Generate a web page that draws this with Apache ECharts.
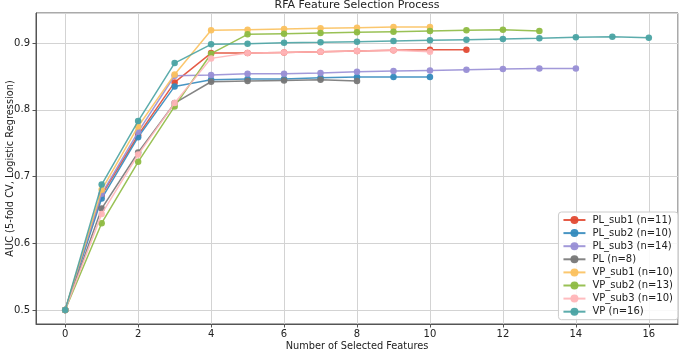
<!DOCTYPE html>
<html>
<head>
<meta charset="utf-8">
<script src="https://cdn.jsdelivr.net/npm/echarts@6/dist/echarts.min.js"></script>
<style>html,body{margin:0;padding:0;background:#fff;}#c{width:680px;height:350px;}</style>
</head>
<body>
<div id="c"></div>
<script>
const seriesNames = ['PL_sub1 (n=11)','PL_sub2 (n=10)','PL_sub3 (n=14)','PL (n=8)','VP_sub1 (n=10)','VP_sub2 (n=13)','VP_sub3 (n=10)','VP (n=16)'];
const PL_sub1 = [0.5, 0.672, 0.762, 0.841, 0.885, 0.885, 0.886, 0.887, 0.888, 0.889, 0.890, 0.890];
const PL_sub2 = [0.5, 0.667, 0.759, 0.835, 0.845, 0.846, 0.846, 0.848, 0.849, 0.849, 0.849];
const PL_sub3 = [0.5, 0.674, 0.767, 0.851, 0.852, 0.854, 0.854, 0.855, 0.857, 0.858, 0.859, 0.860, 0.861, 0.862, 0.862];
const PL_all  = [0.5, 0.652, 0.736, 0.810, 0.842, 0.843, 0.844, 0.845, 0.843];
const VP_sub1 = [0.5, 0.680, 0.775, 0.853, 0.919, 0.920, 0.921, 0.922, 0.923, 0.924, 0.924];
const VP_sub2 = [0.5, 0.630, 0.722, 0.805, 0.884, 0.913, 0.914, 0.915, 0.916, 0.917, 0.918, 0.919, 0.920, 0.918];
const VP_sub3 = [0.5, 0.644, 0.733, 0.810, 0.877, 0.885, 0.886, 0.887, 0.888, 0.889, 0.887];
const VP_all  = [0.5, 0.688, 0.783, 0.870, 0.898, 0.899, 0.9005, 0.901, 0.902, 0.903, 0.904, 0.905, 0.906, 0.907, 0.9085, 0.9095, 0.908];
const allValues = [PL_sub1, PL_sub2, PL_sub3, PL_all, VP_sub1, VP_sub2, VP_sub3, VP_all];
const colors = ['#E24A33','#348ABD','#988ED5','#777777','#FBC15E','#8EBA42','#FFB5B8','#4AA3A3'];

const font = 'DejaVu Sans';
const chart = echarts.init(document.getElementById('c'), null, {renderer:'canvas'});
const series = allValues.map((vals, k) => ({
  name: seriesNames[k],
  type: 'line',
  data: vals.map((v, i) => [i, v]),
  symbol: 'circle',
  symbolSize: 6.5,
  showSymbol: true,
  lineStyle: {width: 1.5, color: colors[k], opacity: 0.9},
  itemStyle: {color: colors[k], opacity: 0.95},
  emphasis: {disabled: true},
  animation: false,
  z: 2 + k
}));

chart.setOption({
  animation: false,
  backgroundColor: '#fff',
  textStyle: {fontFamily: font},
  title: {
    text: 'RFA Feature Selection Process',
    left: 357, textAlign: 'center', top: 0, padding: 0,
    textStyle: {fontFamily: font, fontSize: 11, fontWeight: 'normal', color: '#222'}
  },
  grid: {left: 36, right: 2, top: 13, bottom: 26, containLabel: false, outerBoundsMode: 'none',
         show: true, borderColor: '#555', borderWidth: 1, backgroundColor: 'transparent'},
  legend: {
    orient: 'vertical', right: 2, top: 212,
    itemWidth: 22, itemHeight: 10, itemGap: 3.1,
    padding: [3, 5, 3, 4],
    backgroundColor: 'rgba(255,255,255,0.85)', borderColor: '#cccccc', borderWidth: 1, borderRadius: 3,
    textStyle: {fontFamily: font, fontSize: 10, color: '#222', padding: [0,0,0,2]},
    data: seriesNames
  },
  xAxis: {
    type: 'value', min: -0.8, max: 16.8, minInterval: 2, maxInterval: 2,
    name: 'Number of Selected Features', nameLocation: 'middle', nameGap: 17, nameMoveOverlap: false,
    nameTextStyle: {fontFamily: font, fontSize: 9.8, color: '#222'},
    axisLine: {show: true, onZero: false, lineStyle: {color: '#555'}},
    axisTick: {show: true, length: 3.5, lineStyle: {color: '#555'}},
    axisLabel: {fontFamily: font, fontSize: 10, color: '#222', margin: 5,
      showMinLabel: false, showMaxLabel: false,
      formatter: v => (Math.abs(v - Math.round(v)) < 1e-6 && Math.round(v) % 2 === 0) ? String(Math.round(v)) : ''},
    splitLine: {show: true, lineStyle: {color: '#d3d3d3', width: 1}}
  },
  yAxis: {
    type: 'value', min: 0.479, max: 0.945, minInterval: 0.1, maxInterval: 0.1,
    name: 'AUC (5-fold CV, Logistic Regression)', nameLocation: 'middle', nameGap: 21, nameRotate: 90, nameMoveOverlap: false,
    nameTextStyle: {fontFamily: font, fontSize: 9.8, color: '#222'},
    axisLine: {show: true, onZero: false, lineStyle: {color: '#555'}},
    axisTick: {show: true, length: 3.5, lineStyle: {color: '#555'}},
    axisLabel: {fontFamily: font, fontSize: 10, color: '#222', margin: 6,
      showMinLabel: false, showMaxLabel: false,
      formatter: v => { const r = Math.round(v * 10) / 10; return Math.abs(v - r) < 1e-6 ? r.toFixed(1) : ''; }},
    splitLine: {show: true, lineStyle: {color: '#d3d3d3', width: 1}}
  },
  series: series
});
</script>
</body>
</html>
